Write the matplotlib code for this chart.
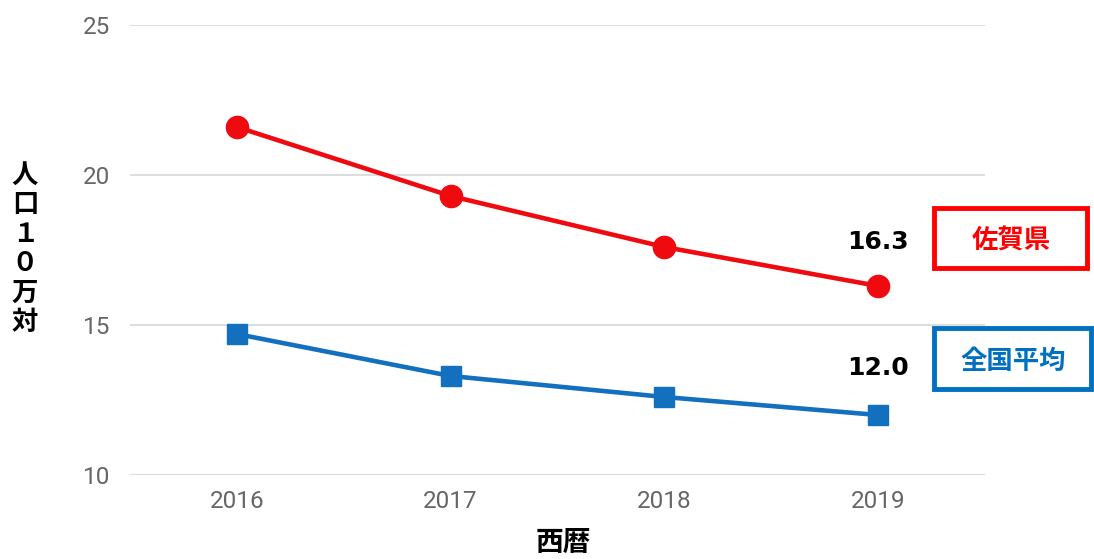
import matplotlib
matplotlib.use("Agg")
import matplotlib.pyplot as plt
from matplotlib.patches import Rectangle

years = ["2016", "2017", "2018", "2019"]
saga = [21.6, 19.3, 17.6, 16.3]
national = [14.7, 13.3, 12.6, 12.0]
yticks = [10, 15, 20, 25]
ylabel_chars = ["人", "口", "１", "０", "万", "対"]

plt.rcParams['font.family'] = ['Noto Sans CJK JP', 'DejaVu Sans']

fig = plt.figure(figsize=(10.94, 5.59), dpi=100)
ax = fig.add_axes([130/1094, 84/559, 855/1094, 450/559])

x = list(range(len(years)))
red = "#EE0A0F"
blue = "#1370BF"
ax.plot(x, saga, color=red, lw=3.3, marker='o', markersize=16, zorder=3)
ax.plot(x, national, color=blue, lw=3.3, marker='s', markersize=15, zorder=3)

ax.set_xlim(-0.5, 3.5)
ax.set_ylim(10, 25)
ax.set_yticks(yticks)
ax.set_xticks(x)
ax.set_xticklabels(years)
ax.grid(axis='y', color='#dddddd', lw=1.5)
ax.set_axisbelow(True)
for s in ax.spines.values():
    s.set_visible(False)
ax.tick_params(length=0, labelsize=17.5, labelcolor='#666666')
ax.tick_params(axis='y', pad=14)
ax.tick_params(axis='x', pad=11)
for lab in ax.get_xticklabels() + ax.get_yticklabels():
    lab.set_family(['Roboto', 'DejaVu Sans'])

for i, ch in enumerate(ylabel_chars):
    fig.text(25/1094, 1 - (175 + i * 29.6)/559, ch, ha='center', va='center',
             fontsize=19, fontweight='bold')
fig.text(563/1094, 1 - 543/559, "西暦", ha='center', va='center', fontsize=20, fontweight='bold')

ax.annotate(f"{saga[-1]:.1f}", xy=(x[-1], saga[-1]), xytext=(0, 44), textcoords='offset pixels',
            ha='center', va='center', fontsize=18, fontweight='bold', family=['DejaVu Sans'])
ax.annotate(f"{national[-1]:.1f}", xy=(x[-1], national[-1]), xytext=(0, 47), textcoords='offset pixels',
            ha='center', va='center', fontsize=18, fontweight='bold', family=['DejaVu Sans'])

fig.patches.append(Rectangle((934/1094, 1 - 268/559), 153/1094, 60/559, transform=fig.transFigure,
                             fill=False, edgecolor='#FF0000', lw=3.5))
fig.text(1011/1094, 1 - 241/559, "佐賀県", ha='center', va='center', fontsize=19, fontweight='bold', color='#FF0000')
fig.patches.append(Rectangle((934/1094, 1 - 389/559), 157/1094, 61/559, transform=fig.transFigure,
                             fill=False, edgecolor='#0070C0', lw=3.5))
fig.text(1013/1094, 1 - 361/559, "全国平均", ha='center', va='center', fontsize=19, fontweight='bold', color='#0070C0')

fig.savefig("out.png", dpi=100)
